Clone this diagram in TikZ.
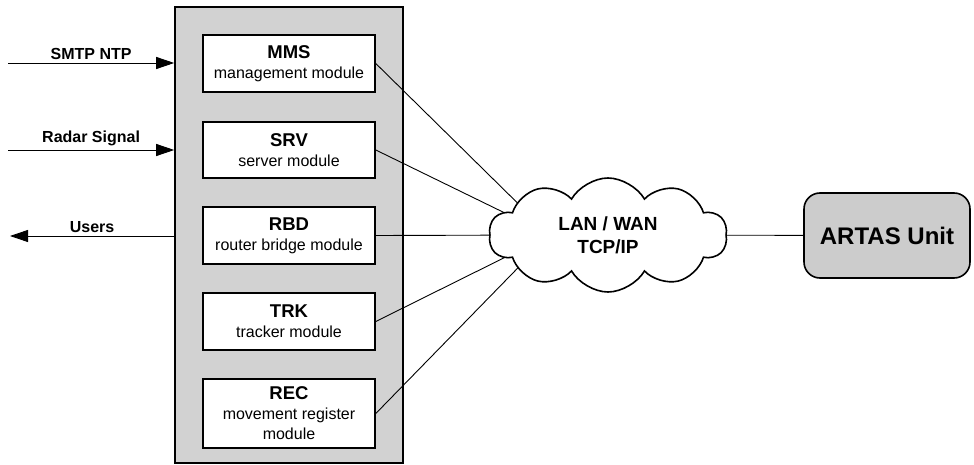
\documentclass[tikz,border=0pt]{standalone}
\usepackage{fontspec}
\setmainfont{Liberation Sans}
\usetikzlibrary{arrows.meta,shapes.symbols}

\begin{document}
\begin{tikzpicture}[x=1pt, y=-1pt, >={Triangle[length=18pt, width=12pt]}, wire/.style={line width=0.9pt}, md/.style={draw, line width=1.6pt, fill=white, minimum width=172pt, minimum height=57pt, inner sep=2pt, align=center, font=\fontsize{16}{20}\selectfont}, lbl/.style={above, font=\bfseries\fontsize{16}{19}\selectfont}]
	\useasboundingbox (0,0) rectangle (974,465);
	\node[draw, line width=1.6pt, fill=gray!35, minimum width=228pt, minimum height=456pt] (rack) at (289,235) {};
	\node[md] (mms) at (289,63.5) {{\bfseries\fontsize{18.5}{20}\selectfont MMS}\\management module};
	\node[md, minimum height=56pt] (srv) at (289,150) {{\bfseries\fontsize{18.5}{20}\selectfont SRV}\\server module};
	\node[md] (rbd) at (289,235.5) {{\bfseries\fontsize{18.5}{20}\selectfont RBD}\\router bridge module};
	\node[md] (trk) at (289,321.5) {{\bfseries\fontsize{18.5}{20}\selectfont TRK}\\tracker module};
	\node[md, minimum height=69pt] (rec) at (289,413.5) {{\bfseries\fontsize{18.5}{20}\selectfont REC}\\movement register\\module};
	\coordinate (smtp) at (8,63);
	\coordinate (radar) at (8,150);
	\coordinate (users) at (10,236);
	\draw[wire, ->] (smtp) -- node[lbl] {SMTP NTP} (smtp -| rack.west);
	\draw[wire, ->] (radar) -- node[lbl] {Radar Signal} (radar -| rack.west);
	\draw[wire, ->] (users -| rack.west) -- node[lbl] {Users} (users);
	\coordinate (hub) at (550,235);
	\foreach \m in {mms,srv,rbd,trk,rec} {\draw[wire] (\m.east) -- (hub);}
	\node[cloud, draw, line width=1.6pt, fill=white, cloud puffs=10, cloud puff arc=120, cloud ignores aspect=false, aspect=2.1, inner sep=0pt, minimum width=238pt, minimum height=114pt, align=center, font=\bfseries\fontsize{19}{23}\selectfont] (net) at (608,235) {LAN / WAN\\TCP/IP};
	\node[draw, line width=1.6pt, fill=gray!40, rounded corners=16pt, minimum width=166pt, minimum height=85pt, font=\bfseries\fontsize{24}{28}\selectfont] (artas) at (887,235.5) {ARTAS Unit};
	\draw[wire] (net) -- (artas);
\end{tikzpicture}
\end{document}
